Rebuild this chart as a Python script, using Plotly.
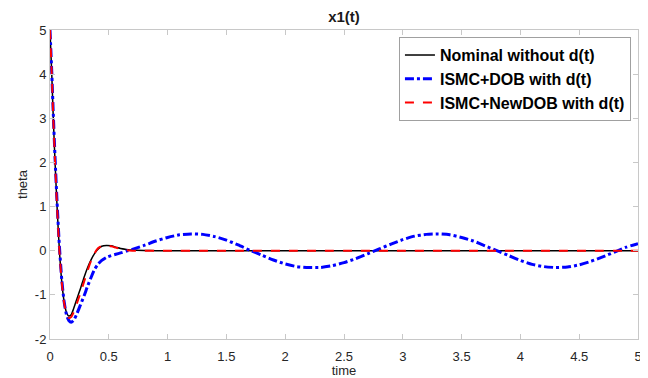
import plotly.graph_objects as go

t = [0, 0.015, 0.028, 0.043, 0.06, 0.08, 0.10, 0.12, 0.14, 0.16, 0.18, 0.20, 0.23, 0.26,
     0.29, 0.32, 0.35, 0.38, 0.41, 0.44, 0.48, 0.52, 0.56, 0.60, 0.65, 0.70,
     0.8, 0.9, 1.0, 1.1, 1.2, 1.3, 1.4, 1.5, 1.6, 1.7, 1.8, 1.9, 2.0, 2.1, 2.2, 2.3,
     2.4, 2.5, 2.6, 2.7, 2.8, 2.9, 3.0, 3.1, 3.2, 3.3, 3.4, 3.5, 3.6, 3.7, 3.8, 3.9,
     4.0, 4.1, 4.2, 4.3, 4.4, 4.5, 4.6, 4.7, 4.8, 4.9, 5.0]

nominal = [5, 4.0, 3.0, 2.0, 1.0, 0.0, -0.7, -1.15, -1.4, -1.48, -1.45, -1.32, -1.08, -0.85,
           -0.6, -0.38, -0.2, -0.06, 0.04, 0.1, 0.12, 0.11, 0.08, 0.05, 0.03, 0.015,
           0.005, 0, 0, 0, 0, 0, 0, 0, 0, 0, 0, 0, 0, 0, 0, 0,
           0, 0, 0, 0, 0, 0, 0, 0, 0, 0, 0, 0, 0, 0, 0, 0,
           0, 0, 0, 0, 0, 0, 0, 0, 0, 0, 0]

dob = [5, 4.05, 3.1, 2.1, 1.1, 0.1, -0.65, -1.15, -1.45, -1.58, -1.62, -1.58, -1.42, -1.22,
       -1.02, -0.8, -0.6, -0.42, -0.3, -0.22, -0.15, -0.11, -0.08, -0.05, -0.01, 0.03,
       0.12, 0.22, 0.30, 0.36, 0.38, 0.37, 0.32, 0.24, 0.13, 0.01, -0.10, -0.21, -0.30, -0.36, -0.38, -0.38,
       -0.34, -0.27, -0.18, -0.07, 0.04, 0.15, 0.25, 0.33, 0.37, 0.38, 0.36, 0.30, 0.22, 0.11, 0.00, -0.11,
       -0.22, -0.31, -0.36, -0.38, -0.37, -0.32, -0.24, -0.14, -0.03, 0.08, 0.16]

newdob = [5, 4.0, 3.0, 2.0, 1.0, 0.0, -0.72, -1.18, -1.43, -1.52, -1.5, -1.4, -1.18, -0.95,
          -0.7, -0.45, -0.22, -0.05, 0.06, 0.11, 0.12, 0.10, 0.07, 0.04, 0.01, 0.0,
          0, 0, 0, 0, 0, 0, 0, 0, 0, 0, 0, 0, 0, 0, 0, 0,
          0, 0, 0, 0, 0, 0, 0, 0, 0, 0, 0, 0, 0, 0, 0, 0,
          0, 0, 0, 0, 0, 0, 0, 0, 0, 0, 0]

x_ticks = [0, 0.5, 1, 1.5, 2, 2.5, 3, 3.5, 4, 4.5, 5]
x_ticktext = ["0", "0.5", "1", "1.5", "2", "2.5", "3", "3.5", "4", "4.5", "5"]
y_ticks = [-2, -1, 0, 1, 2, 3, 4, 5]
y_ticktext = ["-2", "-1", "0", "1", "2", "3", "4", "5"]

fig = go.Figure()
fig.add_trace(go.Scatter(x=t, y=nominal, mode="lines", name="Nominal without d(t)",
                         line=dict(color="black", width=1.5, shape="spline", smoothing=0.6)))
fig.add_trace(go.Scatter(x=t, y=dob, mode="lines", name="ISMC+DOB with d(t)",
                         line=dict(color="#0000ff", width=3, dash="dashdot", shape="spline", smoothing=0.6)))
fig.add_trace(go.Scatter(x=t, y=newdob, mode="lines", name="ISMC+NewDOB with d(t)",
                         line=dict(color="#ff0000", width=2, dash="dash", shape="spline", smoothing=0.6)))

axis_common = dict(showline=True, linecolor="#c8c8c8", linewidth=1, mirror="ticks",
                   ticks="inside", ticklen=5, tickcolor="#c8c8c8", showgrid=False,
                   zeroline=False, automargin=False,
                   tickfont=dict(size=13, color="#262626"))

fig.update_xaxes(range=[0, 5], tickvals=x_ticks, ticktext=x_ticktext, ticklabelstandoff=5,
                 title=dict(text="time", font=dict(size=13, color="#262626"), standoff=3),
                 **axis_common)
fig.update_yaxes(range=[-2, 5], tickvals=y_ticks, ticktext=y_ticktext,
                 title=dict(text="theta", font=dict(size=13, color="#262626"), standoff=4),
                 **axis_common)

# page body has an 8px margin: figure occupies x 8..648, y 8..378 of the window
fig.update_layout(
    width=640, height=370,
    margin=dict(l=42, r=10, t=22, b=39),
    plot_bgcolor="white", paper_bgcolor="white",
    font=dict(family="Liberation Sans, Arial, sans-serif"),
    title=dict(text="<b>x1(t)</b>", x=(344 - 8) / 640, xanchor="center",
               y=1 - 9 / 370, yanchor="middle",
               font=dict(size=15, color="#1a1a1a")),
    legend=dict(x=0.988, xanchor="right", y=0.977, yanchor="top",
                bgcolor="white", bordercolor="#a0a0a0", borderwidth=1,
                font=dict(size=16, color="black", weight="bold"),
                itemwidth=30, tracegroupgap=0),
    showlegend=True,
)

fig.write_html("out.html")
